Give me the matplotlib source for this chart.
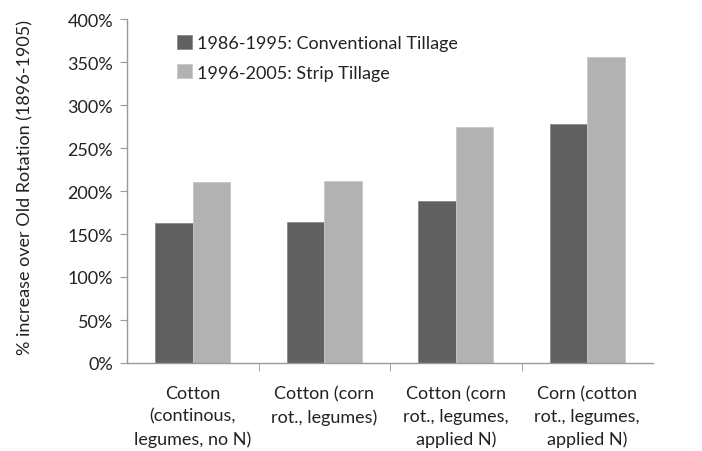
import matplotlib
matplotlib.use("Agg")
import matplotlib.pyplot as plt
import numpy as np
from matplotlib.ticker import FuncFormatter, FixedLocator

categories = ["Cotton\n(continous,\nlegumes, no N)", "Cotton (corn\nrot., legumes)",
              "Cotton (corn\nrot., legumes,\napplied N)", "Corn (cotton\nrot., legumes,\napplied N)"]
conventional = [163, 164, 188, 278]
strip = [210, 212, 274, 356]
series_labels = ["1986-1995: Conventional Tillage", "1996-2005: Strip Tillage"]

plt.rcParams['font.family'] = ['Lato', 'DejaVu Sans']
FS = 13

fig = plt.figure(figsize=(7.02, 4.52), dpi=100)
ax = fig.add_axes([127/702, 1-364/452, (653-127)/702, (364-20)/452])

x = np.arange(len(categories))
w = 0.285
ax.bar(x - w/2, conventional, w, color="#606060", edgecolor="#8a8a8a", linewidth=0.6, label=series_labels[0])
ax.bar(x + w/2, strip, w, color="#b2b2b2", edgecolor="#c8c8c8", linewidth=0.6, label=series_labels[1])

ax.set_xlim(-0.5, len(categories) - 0.5)
ax.set_ylim(0, 400)
ax.set_yticks(np.arange(0, 401, 50))
ax.yaxis.set_major_formatter(FuncFormatter(lambda v, p: f"{int(v)}%"))
ax.tick_params(axis='y', labelsize=FS, labelcolor="#222222", length=5, color="#999999", pad=5)

ax.set_xticks(x)
ax.set_xticklabels(categories, fontsize=FS, color="#222222", linespacing=1.5)
ax.tick_params(axis='x', length=0, pad=16)
ax.xaxis.set_minor_locator(FixedLocator([0.5, 1.5, 2.5]))
ax.tick_params(axis='x', which='minor', length=6, color="#999999")

for s in ["top", "right"]:
    ax.spines[s].set_visible(False)
for s in ["left", "bottom"]:
    ax.spines[s].set_color("#999999")
    ax.spines[s].set_linewidth(1.0)

ax.set_ylabel("% increase over Old Rotation (1896-1905)", fontsize=FS, color="#222222")
ax.yaxis.set_label_coords(-0.178, 0.5 + 5/344)

leg = ax.legend(loc="upper left", bbox_to_anchor=(0.068, 0.995), frameon=False, fontsize=FS,
                handlelength=0.8, handleheight=0.8, handletextpad=0.3, labelspacing=0.72,
                borderaxespad=0.4)
for t in leg.get_texts():
    t.set_color("#222222")

fig.savefig("out.png", dpi=100, facecolor="white")
